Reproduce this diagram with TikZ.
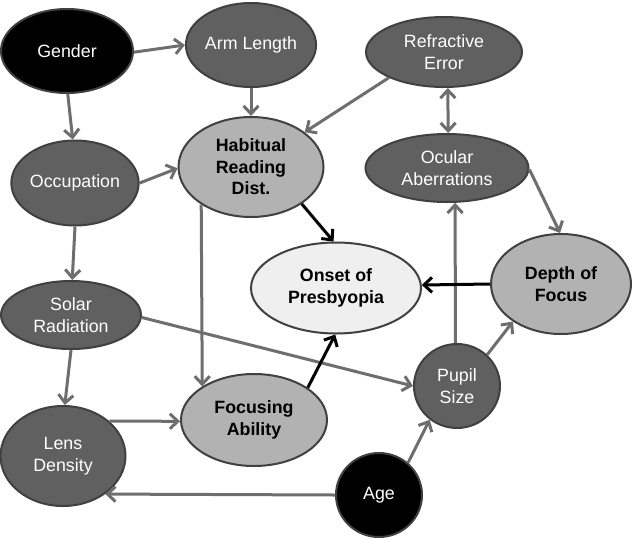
\documentclass[tikz,border=0pt]{standalone}
\usepackage{fontspec}
\setmainfont{Liberation Sans}
\usetikzlibrary{shapes.geometric,arrows.meta}
\definecolor{dk}{HTML}{606060}
\definecolor{lt}{HTML}{B2B2B2}
\definecolor{on}{HTML}{EFEFEF}
\definecolor{bd}{HTML}{404040}
\definecolor{ar}{HTML}{6E6E6E}
\begin{document}
\begin{tikzpicture}[x=1pt,y=-1pt,
  >={Straight Barb[length=8pt,width=15pt]},
  base/.style={ellipse, draw=bd, line width=2pt, inner sep=0pt, align=center,
    font=\fontsize{17.8}{21.5}\selectfont},
  sz/.style 2 args={minimum width=#1pt, minimum height=#2pt},
  dnode/.style={base, fill=dk, text=white},
  bnode/.style={base, fill=black, text=white},
  lnode/.style={base, fill=lt, font=\fontsize{17.8}{21.5}\selectfont\bfseries},
  onode/.style={base, fill=on, font=\fontsize{17.8}{21.5}\selectfont\bfseries},
  garr/.style={draw=ar, line width=3pt, ->},
  garrb/.style={draw=ar, line width=3pt, <->},
  karr/.style={draw=black, line width=3pt, ->}
]
\useasboundingbox (0,0) rectangle (632,539);

\node[bnode, sz={132}{84}] (G) at (67,51) {Gender};
\node[dnode, sz={124}{84}] (A) at (251,45) {Arm Length};
\node[dnode, sz={156}{70}] (R) at (444,52) {Refractive\\Error};
\node[dnode, sz={163}{68}] (O) at (447,168) {Ocular\\Aberrations};
\node[lnode, sz={145}{100}] (H) at (251,167) {Habitual\\Reading\\Dist.};
\node[dnode, sz={115}{85}] (Oc) at (75,183) {Occupation};
\node[dnode, sz={140}{68}] (S) at (71,315) {Solar\\Radiation};
\node[onode, sz={170}{91}] (P) at (336,288) {Onset of\\Presbyopia};
\node[lnode, sz={140}{100}] (D) at (561,284) {Depth of\\Focus};
\node[dnode, sz={86}{84}] (U) at (457,386) {Pupil\\Size};
\node[lnode, sz={146}{92}] (F) at (254,420) {Focusing\\Ability};
\node[dnode, sz={125}{100}] (L) at (63,456) {Lens\\Density};
\node[bnode, sz={86}{84}] (Ag) at (379,495) {Age};

\draw[garr] (G.359) -- (A.180);
\draw[garr] (G.271) -- (Oc.93);
\draw[garr] (A.270) -- (H.90);
\draw[garr] (R.205) -- (H.33);
\draw[garrb] (R.276) -- (O.88);
\draw[garr] (Oc.0) -- (H.181);
\draw[garr] (Oc.270) -- (S.88);
\draw[karr] (H.324) -- (P.93);
\draw[garr] (H.217.6) -- (F.147.3);
\draw[garr] (O.359) -- (D.91);
\draw[garr] (U.92.7) -- (O.283);
\draw[karr] (D.180) -- (P.2);
\draw[garr] (S.358) -- (U.180);
\draw[garr] (S.270) -- (L.88);
\draw[garr] (U.46) -- (D.218.5);
\draw[karr] (F.31) -- (P.269);
\draw[garr] (L.37.4) -- (F.181);
\draw[garr] (Ag.48) -- (U.231);
\draw[garr] (Ag.180) -- (L.318);
\end{tikzpicture}
\end{document}
